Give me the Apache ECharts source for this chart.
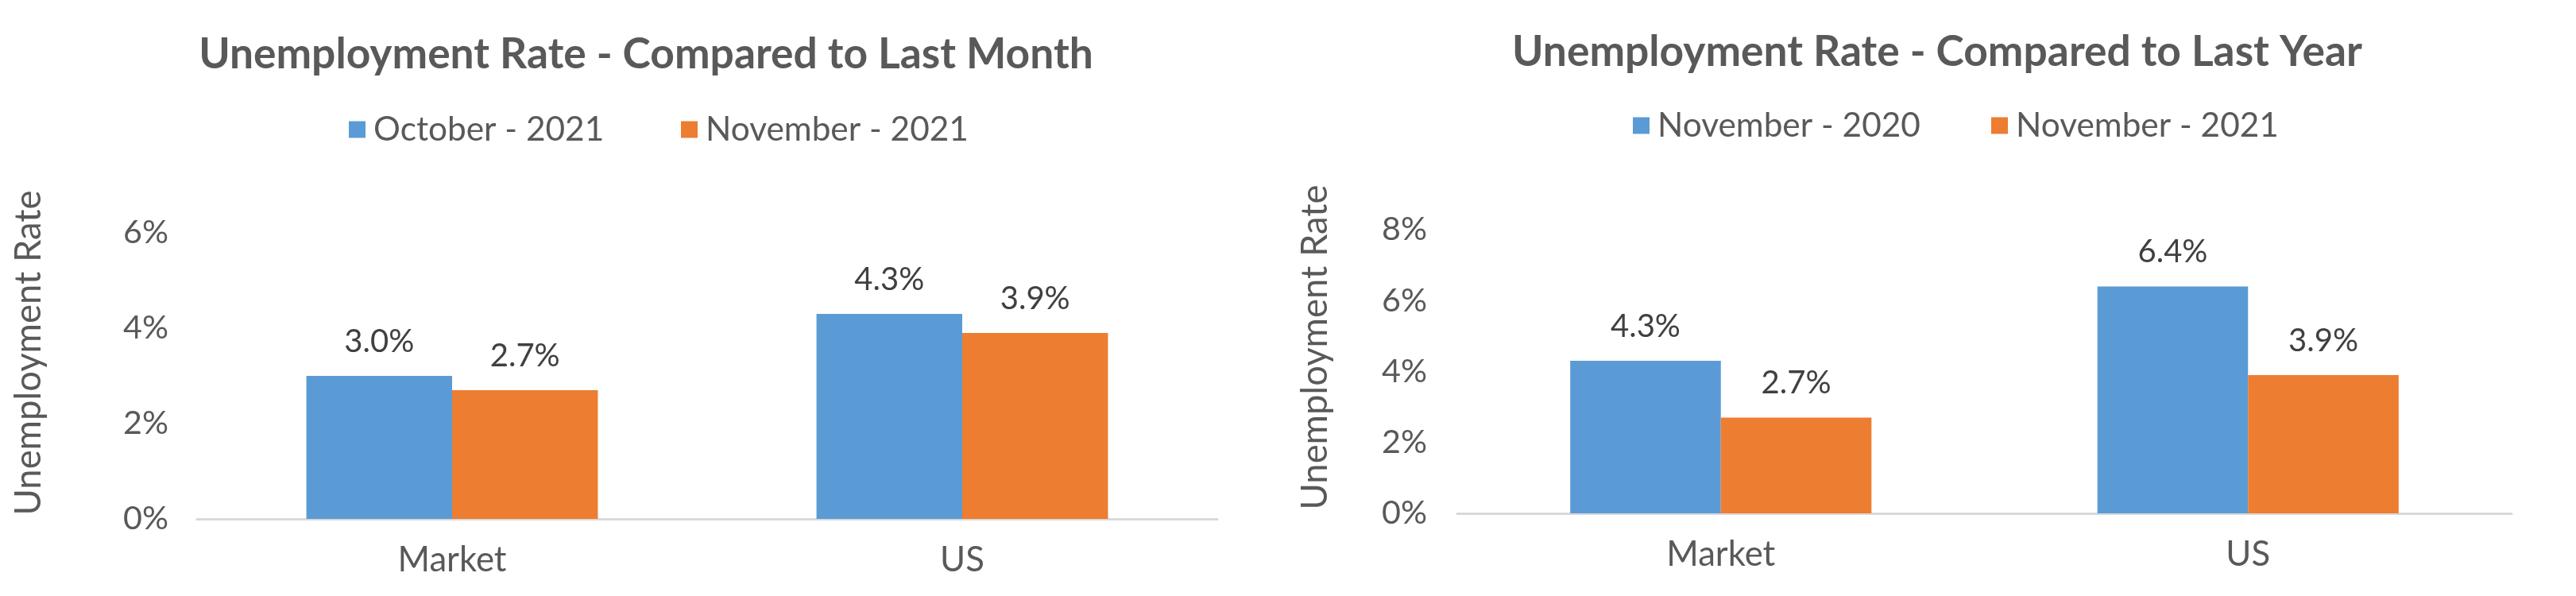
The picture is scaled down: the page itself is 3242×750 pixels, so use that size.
<!DOCTYPE html>
<html><head><meta charset="utf-8">
<script src="https://cdn.jsdelivr.net/npm/echarts@6/dist/echarts.min.js"></script>
<style>html,body{margin:0;padding:0;background:#fff}#c{width:3242px;height:750px}</style>
</head><body><div id="c"></div>
<script>
// ---- data ----
const categories = ['Market', 'US'];
const monthTitle = 'Unemployment Rate - Compared to Last Month';
const yearTitle = 'Unemployment Rate - Compared to Last Year';
const yAxisTitle = 'Unemployment Rate';
const monthSeriesNames = ['October - 2021', 'November - 2021'];
const monthOct2021 = [3.0, 4.3];
const monthNov2021 = [2.7, 3.9];
const yearSeriesNames = ['November - 2020', 'November - 2021'];
const yearNov2020 = [4.3, 6.4];
const yearNov2021 = [2.7, 3.9];
const monthTickValues = [0, 2, 4, 6];
const yearTickValues = [0, 2, 4, 6, 8];

// ---- styling ----
const FONT = 'Lato';
const BLUE = '#5b9bd5', ORANGE = '#ed7d31';
const ctx = document.createElement('canvas').getContext('2d');
function fit(text, target, weight) {
  ctx.font = (weight || 'normal') + ' 100px ' + FONT;
  return 100 * target / ctx.measureText(text).width;
}
const titleFs = fit(monthTitle, 1126, 'bold');
const legendFs = fit('November - 2021', 331);
const tickFs = fit('6%', 57);
const labelFs = fit('3.0%', 88);
const catFs = fit('Market', 137);
const yTitleFs = fit(yAxisTitle, 409);

function tickRange(t) { return { min: t[0], max: t[t.length - 1], interval: t[1] - t[0] }; }

const grids = [
  { left: 248, right: 3242 - 1532, top: 293, bottom: 750 - 653 },
  { left: 1834, right: 3242 - 3161, top: 289, bottom: 750 - 646 }
];

function yAxis(i, ticks, gap, margin, shift) {
  const r = tickRange(ticks);
  return {
    type: 'value', gridIndex: i, min: r.min, max: r.max, interval: r.interval,
    axisLine: { show: false }, axisTick: { show: false }, splitLine: { show: false },
    axisLabel: { formatter: '{value}%', color: '#595959', fontFamily: FONT, fontSize: tickFs, margin: margin },
    name: yAxisTitle, nameLocation: 'middle', nameRotate: 90, nameGap: gap,
    nameTextStyle: { color: '#595959', fontFamily: FONT, fontSize: yTitleFs, verticalAlign: 'middle', align: 'center', padding: [0, 0, 0, shift] }
  };
}
function xAxis(i) {
  return {
    type: 'category', gridIndex: i, data: categories,
    axisLine: { lineStyle: { color: '#d9d9d9', width: 3 } }, axisTick: { show: false },
    axisLabel: { color: '#595959', fontFamily: FONT, fontSize: catFs, lineHeight: catFs, margin: 52 - catFs / 2 }
  };
}
function bar(name, data, i, color) {
  return {
    type: 'bar', name: name, data: data, xAxisIndex: i, yAxisIndex: i,
    barGap: '0%', barCategoryGap: '42.857%',
    itemStyle: { color: color },
    label: { show: true, position: 'top', distance: 43 - labelFs / 2, color: '#404040', fontFamily: FONT, fontSize: labelFs, lineHeight: labelFs,
      formatter: p => p.value.toFixed(1) + '%' },
    emphasis: { disabled: true }
  };
}
function legend(name, x, yc) {
  const h = Math.max(21, legendFs);
  return { data: [name], left: x, top: yc - h / 2, padding: 0, itemWidth: 21, itemHeight: 21, icon: 'rect',
    textStyle: { color: '#595959', fontFamily: FONT, fontSize: legendFs, lineHeight: legendFs, padding: [0, 0, 0, 5] } };
}

const option = {
  animation: false,
  backgroundColor: '#fff',
  title: [
    { text: monthTitle, left: 808, top: 64 - titleFs / 2, textAlign: 'center',
      textStyle: { color: '#595959', fontFamily: FONT, fontWeight: 'bold', fontSize: titleFs, lineHeight: titleFs } },
    { text: yearTitle, left: 2433, top: 61 - titleFs / 2, textAlign: 'center',
      textStyle: { color: '#595959', fontFamily: FONT, fontWeight: 'bold', fontSize: titleFs, lineHeight: titleFs } }
  ],
  legend: [
    legend(monthSeriesNames[0], 439, 163),
    legend(monthSeriesNames[1], 857, 163),
    legend(yearSeriesNames[0], 2055, 158),
    legend(yearSeriesNames[1], 2506, 158)
  ],
  grid: grids,
  xAxis: [xAxis(0), xAxis(1)],
  yAxis: [yAxis(0, monthTickValues, 212, 36, 58), yAxis(1, yearTickValues, 179, 38, 61)],
  series: [
    bar(monthSeriesNames[0], monthOct2021, 0, BLUE),
    bar(monthSeriesNames[1], monthNov2021, 0, ORANGE),
    bar(yearSeriesNames[0], yearNov2020, 1, BLUE),
    bar(yearSeriesNames[1], yearNov2021, 1, ORANGE)
  ]
};
const chart = echarts.init(document.getElementById('c'), null, { renderer: 'canvas' });
chart.setOption(option);
</script></body></html>
